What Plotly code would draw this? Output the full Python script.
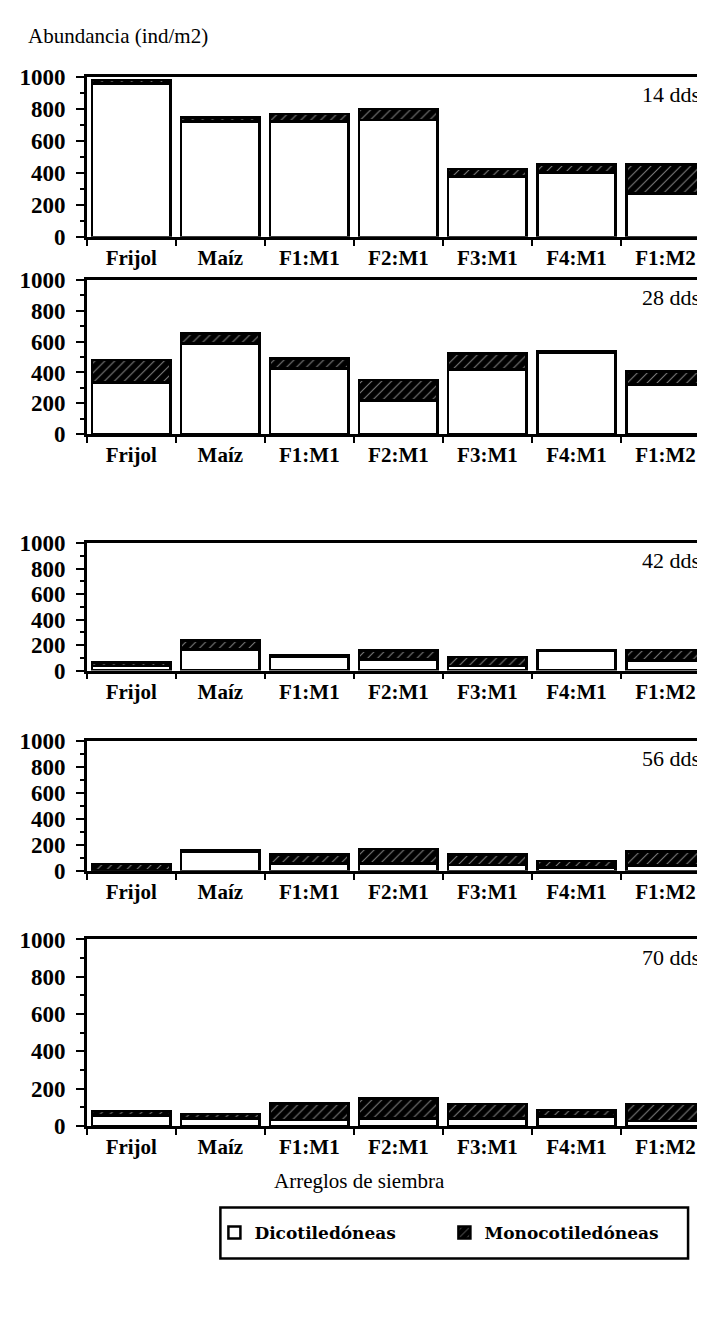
import plotly.graph_objects as go
from plotly.subplots import make_subplots

categories = ["Frijol", "Maíz", "F1:M1", "F2:M1", "F3:M1", "F4:M1", "F1:M2"]
panel_labels = ["14 dds", "28 dds", "42 dds", "56 dds", "70 dds"]

dicot_14 = [960, 722, 722, 732, 378, 402, 272]
mono_14 = [20, 25, 45, 66, 45, 52, 182]
dicot_28 = [335, 587, 425, 218, 419, 530, 321]
mono_28 = [147, 65, 67, 132, 103, 7, 84]
dicot_42 = [38, 166, 112, 89, 38, 158, 81]
mono_42 = [27, 70, 8, 67, 67, 5, 81]
dicot_56 = [8, 145, 58, 58, 44, 24, 40]
mono_56 = [46, 14, 69, 111, 80, 50, 109]
dicot_70 = [55, 40, 32, 41, 41, 50, 27]
mono_70 = [25, 24, 88, 106, 76, 35, 90]

dicot = [dicot_14, dicot_28, dicot_42, dicot_56, dicot_70]
mono = [mono_14, mono_28, mono_42, mono_56, mono_70]

W, H = 705, 1338
tops = [58, 265, 533, 735, 937]
bottoms = [221, 422, 663, 867, 1127]
x_left, x_right = 79, 704

SERIF = "Liberation Serif"

fig = make_subplots(rows=5, cols=1)

for i in range(5):
    r = i + 1
    fig.add_trace(go.Bar(
        x=categories, y=dicot[i], name="<b>Dicotiledóneas</b>",
        legendgroup="d", showlegend=(i == 0),
        marker=dict(color="white", line=dict(color="black", width=2.5)),
    ), row=r, col=1)
    fig.add_trace(go.Bar(
        x=categories, y=mono[i], name="<b>Monocotiledóneas</b>",
        legendgroup="m", showlegend=(i == 0),
        marker=dict(color="black", line=dict(color="black", width=2.5),
                    pattern=dict(shape="/", bgcolor="black", fgcolor="white",
                                 size=7, solidity=0.15)),
    ), row=r, col=1)

    sfx = "" if i == 0 else str(r)
    fig.layout["xaxis" + sfx].update(
        domain=[x_left / W, x_right / W],
        showline=True, linecolor="black", linewidth=2.5, mirror=True,
        ticks="outside", tickson="boundaries", ticklen=6, tickwidth=2, tickcolor="black",
        tickfont=dict(family=SERIF, size=21, color="black", weight="bold"),
        showgrid=False,
    )
    fig.layout["yaxis" + sfx].update(
        domain=[1 - bottoms[i] / H, 1 - tops[i] / H],
        range=[0, 1000], tickvals=[0, 200, 400, 600, 800, 1000],
        showline=True, linecolor="black", linewidth=2.5, mirror=True,
        ticks="outside", ticklen=8, tickwidth=2, tickcolor="black",
        ticklabelstandoff=6,
        minor=dict(dtick=100, ticks="outside", ticklen=4, tickwidth=2, tickcolor="black"),
        tickfont=dict(family=SERIF, size=23, color="black", weight="bold"),
        showgrid=False, zeroline=False,
    )
    fig.add_annotation(
        text=panel_labels[i], xref="paper", yref="paper",
        x=696 / W, y=1 - (tops[i] + 18) / H, xanchor="right", yanchor="middle",
        showarrow=False, font=dict(family=SERIF, size=22, color="black"),
    )

fig.add_annotation(text="Abundancia (ind/m2)", xref="paper", yref="paper",
                   x=18 / W, y=1 - 16 / H, xanchor="left", yanchor="middle",
                   showarrow=False, font=dict(family=SERIF, size=21, color="black"))
fig.add_annotation(text="Arreglos de siembra", xref="paper", yref="paper",
                   x=352 / W, y=1 - 1183 / H, xanchor="center", yanchor="middle",
                   showarrow=False, font=dict(family=SERIF, size=21, color="black"))

fig.add_shape(type="rect", xref="paper", yref="paper",
              x0=213 / W, x1=682 / W, y0=1 - 1262 / H, y1=1 - 1210 / H,
              line=dict(color="black", width=2.5), fillcolor="rgba(0,0,0,0)")

fig.update_layout(
    width=W, height=H,
    margin=dict(l=0, r=0, t=0, b=0),
    paper_bgcolor="white", plot_bgcolor="white",
    barmode="stack", bargap=0.12,
    legend=dict(orientation="h", x=207 / W, y=1 - 1236 / H,
                xanchor="left", yanchor="middle",
                font=dict(family="DejaVu Serif", size=17, color="black"),
                entrywidth=185, entrywidthmode="pixels",
                bgcolor="rgba(0,0,0,0)", borderwidth=0, itemclick=False),
)

fig.write_html("out.html")
